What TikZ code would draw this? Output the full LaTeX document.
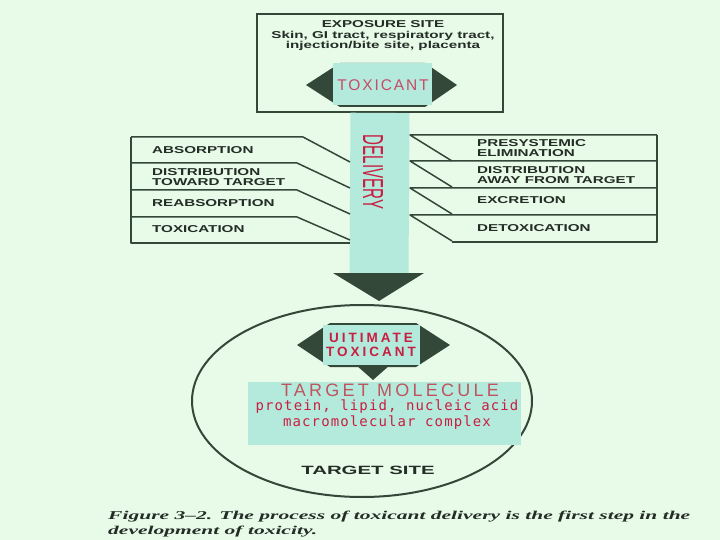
\documentclass[tikz,border=0pt]{standalone}
\usepackage{fontspec}
\setmainfont{Liberation Serif}
\setsansfont{Liberation Sans}
\newfontfamily\monofam{DejaVu Sans Mono}
\usetikzlibrary{shapes.geometric}

\definecolor{bgc}{RGB}{232,250,232}
\definecolor{tealc}{RGB}{180,234,220}
\definecolor{darkc}{RGB}{52,72,58}
\definecolor{inkc}{RGB}{35,45,38}
\definecolor{redc}{RGB}{200,30,65}
\definecolor{pinkc}{RGB}{200,75,105}
\definecolor{molc}{RGB}{190,85,95}

\newcommand{\widetxt}[1]{\scalebox{1.52}[1]{#1}}

\begin{document}
\begin{tikzpicture}[x=1pt,y=-1pt]
\tikzset{lbl/.style={font=\sffamily\bfseries\fontsize{10}{10}\selectfont, text=inkc, align=left, anchor=west, inner sep=0pt}}
\tikzset{panel/.style={draw=darkc, line width=1.5pt, line join=round}}
\tikzset{redtxt/.style={inner sep=0pt, align=center, text=redc}}
\useasboundingbox (0,0) rectangle (720,540);
\fill[bgc] (0,0) rectangle (720,540);

% exposure site
\node[draw=darkc, line width=1.8pt, minimum width=246pt, minimum height=98pt, inner sep=0pt] (expo) at (380,63) {};
\node[inner sep=0pt, align=center, text=inkc, font=\sffamily\bfseries\fontsize{10}{10.5}\selectfont] (expotxt) at (383,36)
  {\widetxt{EXPOSURE SITE}\\ \widetxt{Skin, GI tract, respiratory tract,}\\ \widetxt{injection/bite site, placenta}};

% target site
\node[draw=darkc, line width=2pt, ellipse, minimum width=340pt, minimum height=192pt, inner sep=0pt] (site) at (362,401) {};
\coordinate (tip) at (379,301);

% delivery
\draw[tealc, line width=59pt] (expo.south) -- ([yshift=27pt]tip);
\fill[darkc] ([xshift=-46pt,yshift=28pt]tip) -- ([xshift=45pt,yshift=28pt]tip) -- (tip) -- cycle;
\node[redtxt, text=redc] (deliv) at (373,172) {\rotatebox{-90}{\fontsize{29}{29}\sffamily\scalebox{0.52}[1]{DELIVERY}}};

% toxicant
\fill[darkc] (306,85) -- (340,63) -- (425,63) -- (457,85) -- (425,107) -- (340,107) -- cycle;
\fill[tealc] (333,63) rectangle (432,105);
\node[redtxt, text=pinkc, font=\sffamily\fontsize{15.5}{15.5}\selectfont\addfontfeatures{LetterSpace=12}] (tox) at (383,85) {TOXICANT};

% left panel
\draw[panel] (131,137) -- (303,137) -- (350,162);
\draw[panel] (131,163) -- (297,163) -- (350,188);
\draw[panel] (131,190) -- (297,190) -- (350,214);
\draw[panel] (131,217) -- (297,217) -- (350,240);
\draw[panel] (131,137) -- (131,243) -- (350,243);
\node[lbl] (absorp) at (152,150) {\widetxt{ABSORPTION}};
\node[lbl] (distto) at (152,177) {\widetxt{DISTRIBUTION}\\ \widetxt{TOWARD TARGET}};
\node[lbl] (reabs) at (152,203) {\widetxt{REABSORPTION}};
\node[lbl] (toxic) at (152,229) {\widetxt{TOXICATION}};

% right panel
\draw[panel] (657,135) -- (410,135) -- (452,161);
\draw[panel] (657,161) -- (410,161) -- (452,187);
\draw[panel] (657,188) -- (410,188) -- (452,214);
\draw[panel] (657,215) -- (410,215) -- (452,241);
\draw[panel] (452,242) -- (657,242) -- (657,135);
\node[lbl] (presys) at (477,148) {\widetxt{PRESYSTEMIC}\\ \widetxt{ELIMINATION}};
\node[lbl] (distaway) at (477,175) {\widetxt{DISTRIBUTION}\\ \widetxt{AWAY FROM TARGET}};
\node[lbl] (excr) at (477,200) {\widetxt{EXCRETION}};
\node[lbl] (detox) at (477,228) {\widetxt{DETOXICATION}};

% ultimate toxicant
\fill[darkc] (297,345) -- (330,323) -- (416,323) -- (450,345) -- (416,367) -- (330,367) -- cycle;
\fill[darkc] (356,365) -- (390,365) -- (373,380) -- cycle;
\fill[tealc] (323,325) rectangle (420,365);
\node[redtxt, font=\sffamily\bfseries\fontsize{13.5}{14}\selectfont\addfontfeatures{LetterSpace=22}] (ultox) at (371,345) {UITIMATE\\TOXICANT};

% target molecule
\fill[tealc] (248,382) rectangle (521,445);
\node[redtxt, text=molc, font=\sffamily\fontsize{18}{18}\selectfont\addfontfeatures{LetterSpace=18}] (tmol) at (390,390) {TARGET MOLECULE};
\node[redtxt, font=\monofam\fontsize{14}{16}\selectfont\addfontfeatures{LetterSpace=8}] (tmoltxt) at (387,415)
  {protein, lipid, nucleic acid\\macromolecular complex};
\node[inner sep=0pt, text=inkc, font=\sffamily\bfseries\fontsize{12}{12}\selectfont] (sitetxt) at (368,470) {\scalebox{1.7}[1]{TARGET SITE}};

% caption
\node[inner sep=0pt, anchor=north west, text=inkc, font=\bfseries\itshape\fontsize{12}{15}\selectfont] (capt) at (108,509)
  {\resizebox*{582pt}{\totalheight}{\begin{tabular}{@{}l@{}}Figure 3--2. The process of toxicant delivery is the first step in the\\development of toxicity.\end{tabular}}};
\end{tikzpicture}
\end{document}
